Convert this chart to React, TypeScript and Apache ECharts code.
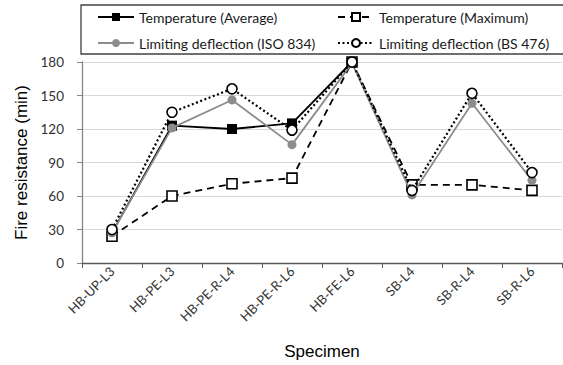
import React, { useEffect, useRef } from "react";
import * as echarts from "echarts";

const categories = [
  "HB-UP-L3",
  "HB-PE-L3",
  "HB-PE-R-L4",
  "HB-PE-R-L6",
  "HB-FE-L6",
  "SB-L4",
  "SB-R-L4",
  "SB-R-L6",
];
const tempAverage = [27, 123, 120, 125, 180, null, null, null];
const tempMaximum = [24, 60, 71, 76, 180, 70, 70, 65];
const isoDeflection = [27, 121, 146, 106, 179, 61, 143, 74];
const bsDeflection = [30, 135, 156, 119, 180, 65, 152, 81];
const yTicks = { min: 0, max: 180, interval: 30 };

const labelFont = "Lato, 'Open Sans', sans-serif";
const titleFont = "'Liberation Sans', Arial, sans-serif";

export default function App() {
  const ref = useRef<HTMLDivElement>(null);

  useEffect(() => {
    document.body.style.margin = "0";
    if (!ref.current) return;
    const chart = echarts.init(ref.current, null, { renderer: "svg" });

    const legendText = { fontFamily: labelFont, fontSize: 14, color: "#1a1a1a", lineHeight: 14 };

    chart.setOption({
      animation: false,
      backgroundColor: "#ffffff",
      grid: { left: 82, right: 1, top: 62, bottom: 99, containLabel: false },
      graphic: [
        {
          type: "rect",
          shape: { x: 81, y: 5, width: 500, height: 49 },
          style: { fill: "none", stroke: "#404040", lineWidth: 1.3 },
          z: 10,
        },
      ],
      legend: [
        {
          orient: "vertical",
          left: 97,
          top: 10,
          padding: 0,
          itemWidth: 36,
          itemHeight: 10,
          itemGap: 12,
          textStyle: legendText,
          data: ["Temperature (Average)", "Limiting deflection (ISO 834)"],
        },
        {
          orient: "vertical",
          left: 337,
          top: 10,
          padding: 0,
          itemWidth: 36,
          itemHeight: 10,
          itemGap: 12,
          textStyle: legendText,
          data: ["Temperature (Maximum)", "Limiting deflection (BS 476)"],
        },
      ],
      xAxis: {
        type: "category",
        data: categories,
        boundaryGap: true,
        name: "Specimen",
        nameLocation: "middle",
        nameGap: 80,
        nameTextStyle: { fontFamily: titleFont, fontSize: 17, color: "#000000" },
        axisLine: { lineStyle: { color: "#595959", width: 1.3 } },
        axisTick: { show: true, length: 5, alignWithLabel: false, lineStyle: { color: "#595959" } },
        axisLabel: {
          interval: 0,
          rotate: 45,
          margin: 6,
          fontFamily: labelFont,
          fontSize: 13,
          color: "#333333",
        },
        splitLine: { show: false },
      },
      yAxis: {
        type: "value",
        min: yTicks.min,
        max: yTicks.max,
        interval: yTicks.interval,
        name: "Fire resistance (min)",
        nameLocation: "middle",
        nameGap: 52,
        nameTextStyle: { fontFamily: titleFont, fontSize: 17, color: "#000000" },
        axisLine: { show: true, lineStyle: { color: "#868686", width: 1.3 } },
        axisTick: { show: true, length: 5, lineStyle: { color: "#868686" } },
        axisLabel: { margin: 18, fontFamily: labelFont, fontSize: 13.5, color: "#333333" },
        splitLine: { show: true, lineStyle: { color: "#d9d9d9", width: 1 } },
      },
      series: [
        {
          name: "Temperature (Average)",
          type: "line",
          data: tempAverage,
          symbol: "rect",
          symbolSize: 10,
          connectNulls: false,
          lineStyle: { color: "#000000", width: 1.8 },
          itemStyle: { color: "#000000", borderColor: "#000000", borderWidth: 0 },
          z: 2,
        },
        {
          name: "Temperature (Maximum)",
          type: "line",
          data: tempMaximum,
          symbol: "rect",
          symbolSize: 10,
          lineStyle: { color: "#000000", width: 1.8, type: [7, 5] },
          itemStyle: { color: "#ffffff", borderColor: "#000000", borderWidth: 1.6 },
          z: 3,
        },
        {
          name: "Limiting deflection (ISO 834)",
          type: "line",
          data: isoDeflection,
          symbol: "circle",
          symbolSize: 9,
          lineStyle: { color: "#8c8c8c", width: 1.8 },
          itemStyle: { color: "#8c8c8c", borderColor: "#8c8c8c", borderWidth: 0 },
          z: 4,
        },
        {
          name: "Limiting deflection (BS 476)",
          type: "line",
          data: bsDeflection,
          symbol: "circle",
          symbolSize: 10,
          lineStyle: { color: "#000000", width: 2.2, type: [2, 2.5] },
          itemStyle: { color: "#ffffff", borderColor: "#000000", borderWidth: 1.6 },
          z: 5,
        },
      ],
    });

    return () => chart.dispose();
  }, []);

  return <div ref={ref} style={{ width: 563, height: 365 }} />;
}
